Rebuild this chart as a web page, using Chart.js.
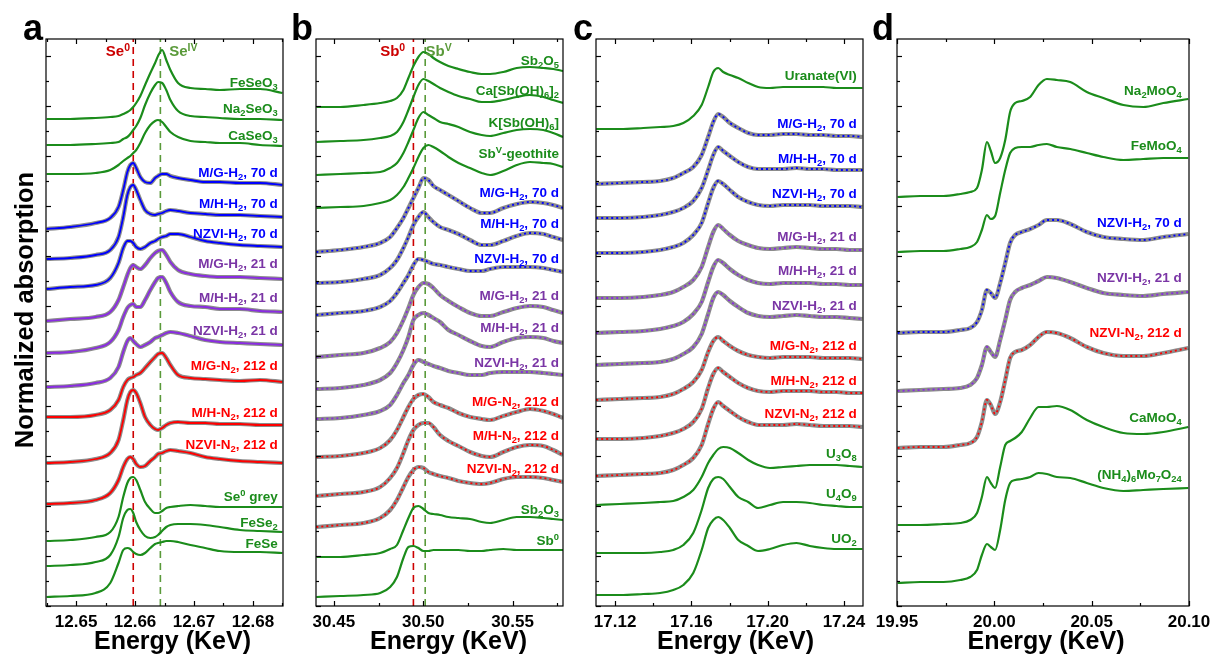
<!DOCTYPE html>
<html><head><meta charset="utf-8">
<script src="https://cdn.jsdelivr.net/npm/chart.js@4.4.1/dist/chart.umd.min.js"></script>
<style>
html,body{margin:0;padding:0;background:#fff;width:1212px;height:657px;overflow:hidden;position:relative;}
canvas{position:absolute;top:0;}
</style></head><body>
<canvas id="ca" width="297" height="657" style="left:0px"></canvas>
<canvas id="cb" width="307" height="657" style="left:286px"></canvas>
<canvas id="cc" width="327" height="657" style="left:566px"></canvas>
<canvas id="cd" width="360" height="657" style="left:867px"></canvas>
<script>
// ---------------- Panel a : Se K-edge ----------------
const energyA = [12.6450,12.6490,12.6533,12.6558,12.6572,12.6580,12.6587,12.6592,12.6597,12.6602,12.6609,12.6617,12.6626,12.6634,12.6639,12.6646,12.6653,12.6660,12.6673,12.6694,12.6719,12.6744,12.6778,12.6812,12.6850];
const a_FeSeO3  = [48.7,48.7,48.8,48.9,49.0,49.2,49.4,49.6,49.9,50.3,51.0,52.1,53.3,54.3,55.0,55.6,54.6,53.6,52.3,51.8,51.7,51.6,51.7,51.7,51.3];
const a_Na2SeO3 = [46.1,46.1,46.2,46.3,46.4,46.7,46.9,47.2,47.6,48.0,48.8,50.1,51.3,52.1,52.4,52.3,51.6,50.6,49.5,49.0,48.9,48.8,48.7,48.7,48.6];
const a_CaSeO3  = [43.2,43.2,43.3,43.6,44.1,44.5,44.8,45.0,45.3,45.6,46.3,47.3,48.1,48.5,48.6,48.4,47.9,47.4,46.9,46.5,46.4,46.3,46.3,46.1,46.0];
const a_MGH70   = [37.7,37.9,38.3,38.8,39.9,41.6,43.4,44.1,44.3,43.8,42.9,42.4,42.3,42.8,43.0,43.2,43.2,43.0,42.8,42.6,42.4,42.4,42.3,42.3,42.1];
const a_MHH70   = [34.7,34.8,35.1,35.6,36.9,38.9,41.1,41.9,42.1,41.6,40.6,39.6,39.2,39.1,39.2,39.3,39.5,39.6,39.5,39.3,39.2,39.1,39.1,39.0,38.9];
const a_NZH70   = [31.7,31.9,32.1,32.8,34.3,35.8,36.5,36.5,36.3,35.9,35.7,35.9,36.3,36.5,36.7,36.9,37.0,37.2,37.2,36.9,36.5,36.3,36.1,36.0,35.9];
const a_MGH21   = [28.5,28.7,28.9,29.4,30.6,31.9,33.1,33.8,34.1,33.9,33.7,34.1,34.8,35.3,35.5,35.6,35.1,34.4,33.6,33.2,33.0,32.9,32.9,32.8,32.7];
const a_MHH21   = [25.3,25.4,25.8,26.4,27.6,28.9,29.8,30.1,30.2,29.9,29.9,30.6,31.6,32.4,32.8,32.9,32.3,31.4,30.4,30.0,29.9,29.7,29.7,29.5,29.4];
const a_NZH21   = [21.9,22.0,22.3,22.8,23.9,25.4,26.5,26.8,26.5,26.2,25.9,26.1,26.4,26.8,26.9,27.1,27.3,27.4,27.3,27.0,26.6,26.4,26.3,26.2,26.1];
const a_MGN212  = [18.9,18.9,19.1,19.6,20.6,21.9,22.6,22.8,22.9,23.1,23.3,23.8,24.4,24.9,25.2,25.3,24.8,24.1,23.1,22.8,22.7,22.6,22.5,22.6,22.4];
const a_MHN212  = [14.3,14.4,14.7,15.3,16.6,18.6,20.6,21.4,21.6,21.3,20.3,18.9,18.1,17.7,17.6,17.8,18.1,18.3,18.4,18.3,18.3,18.2,18.2,18.1,18.1];
const a_NZN212  = [10.2,10.3,10.6,11.3,12.6,13.9,14.7,14.9,14.7,14.2,13.9,14.0,14.5,14.9,15.2,15.3,15.5,15.6,15.5,15.3,14.9,14.7,14.5,14.4,14.3];
const a_Se0grey = [6.5,6.6,6.9,7.4,8.9,10.9,12.3,12.8,12.9,12.6,11.6,10.4,9.7,9.3,9.3,9.5,9.8,9.9,10.0,10.1,10.0,9.9,9.9,9.9,9.9];
const a_FeSe2   = [4.0,4.1,4.4,5.1,6.9,8.8,9.6,9.7,9.3,8.4,7.6,7.0,6.8,6.9,7.1,7.5,7.9,8.1,8.2,8.2,8.1,7.9,7.6,7.5,7.4];
const a_FeSe    = [0.9,1.0,1.3,2.3,4.3,5.6,5.8,5.7,5.4,5.2,5.1,5.3,5.8,6.2,6.3,6.4,6.5,6.5,6.4,6.1,5.8,5.5,5.4,5.4,5.3];
const labelTextA = ['FeSeO_3','Na_2SeO_3','CaSeO_3','M/G-H_2, 70 d','M/H-H_2, 70 d','NZVI-H_2, 70 d','M/G-H_2, 21 d','M/H-H_2, 21 d','NZVI-H_2, 21 d','M/G-N_2, 212 d','M/H-N_2, 212 d','NZVI-N_2, 212 d','Se^0 grey','FeSe_2','FeSe'];
const labelYA = [52.4,49.8,47.1,43.4,40.3,37.3,34.3,30.9,27.6,24.1,19.4,16.2,11.0,8.4,6.3];
const kindsA = ['ref','ref','ref','h70','h70','h70','h21','h21','h21','n212','n212','n212','ref','ref','ref'];
const vlineA = [12.6597, 12.6643];
const topTextA = ['Se^0','Se^{IV}'];
const topXA = [12.6571, 12.6682];
const xTicksA = {min:12.6449, max:12.6851, step:0.01};

// ---------------- Panel b : Sb K-edge ----------------
const energyB = [30.4402,30.4536,30.4666,30.4759,30.4815,30.4853,30.4889,30.4917,30.4945,30.4973,30.5001,30.5029,30.5057,30.5094,30.5141,30.5197,30.5262,30.5327,30.5374,30.5448,30.5523,30.5597,30.5672,30.5727,30.5782];
const b_Sb2O5   = [49.9,49.9,50.1,50.3,50.5,50.8,51.6,52.8,54.0,54.9,55.4,55.2,54.8,54.4,54.0,53.7,53.4,53.2,53.2,53.4,53.8,53.9,53.8,53.7,53.5];
const b_CaSbOH  = [46.4,46.5,46.6,46.8,47.0,47.4,48.4,49.6,50.9,52.1,52.7,52.5,52.2,51.8,51.4,51.0,50.7,50.4,50.4,50.6,50.9,51.1,50.9,50.6,50.3];
const b_KSbOH   = [43.1,43.2,43.3,43.4,43.8,44.3,45.3,46.4,47.6,48.8,49.4,49.1,48.8,48.4,48.2,47.9,47.4,47.1,47.0,47.3,47.6,47.7,47.6,47.3,46.9];
const b_SbVgeo  = [39.8,39.9,40.0,40.3,40.6,41.1,41.9,42.8,43.8,44.9,45.8,46.1,45.9,45.5,44.9,44.3,43.8,43.3,43.1,43.5,44.1,44.4,44.3,44.2,43.9];
const b_MGH70   = [35.4,35.6,35.9,36.3,36.9,37.8,38.8,39.8,40.8,41.8,42.8,42.6,42.0,41.6,41.1,40.5,39.8,39.3,39.3,39.8,40.2,40.4,40.3,40.1,39.8];
const b_MHH70   = [32.3,32.4,32.7,33.1,33.8,34.6,35.8,36.9,38.1,38.9,39.4,38.9,38.4,37.9,37.6,37.2,36.6,36.1,36.1,36.5,37.0,37.3,37.2,36.9,36.6];
const b_NZH70   = [29.1,29.3,29.5,29.9,30.5,31.3,32.3,33.1,34.1,34.7,34.6,34.4,34.2,34.1,33.9,33.7,33.5,33.5,33.7,33.9,33.9,33.9,33.8,33.6,33.4];
const b_MGH21   = [24.9,25.1,25.3,25.8,26.4,27.3,28.6,29.8,31.1,31.9,32.3,32.2,31.8,31.1,30.5,29.9,29.3,29.0,29.0,29.4,29.8,30.0,29.9,29.6,29.3];
const b_MHH21   = [21.7,21.8,22.1,22.6,23.3,24.3,25.6,26.9,28.6,29.1,29.3,29.1,28.8,28.4,27.6,27.1,26.5,26.0,25.9,26.4,26.8,26.9,26.8,26.5,26.3];
const b_NZH21   = [18.7,18.8,19.1,19.5,20.1,21.1,22.3,23.1,24.1,24.6,24.4,24.2,24.0,23.8,23.5,23.3,23.1,23.1,23.3,23.4,23.4,23.4,23.3,23.2,23.1];
const b_MGN212  = [14.9,15.0,15.3,15.8,16.6,17.6,18.9,19.9,20.7,21.1,21.2,20.9,20.4,20.1,19.8,19.3,18.9,18.7,18.6,19.0,19.4,19.7,19.5,19.2,18.8];
const b_MHN212  = [11.0,11.2,11.4,11.9,12.8,13.8,15.3,16.6,17.6,18.1,18.3,18.3,17.9,17.1,16.5,16.0,15.4,15.0,14.9,15.4,15.9,16.1,16.0,15.6,15.1];
const b_NZN212  = [7.9,8.1,8.3,8.8,9.6,10.6,11.9,12.9,13.6,13.9,13.8,13.4,13.2,13.0,12.8,12.5,12.3,12.2,12.3,12.7,12.9,12.9,12.8,12.6,12.4];
const b_Sb2O3   = [4.9,4.9,5.1,5.3,5.7,6.1,7.6,8.8,9.8,10.0,9.7,9.3,9.2,9.1,8.9,8.8,8.7,8.4,8.3,8.6,8.9,8.9,8.8,8.7,8.6];
const b_Sb0     = [0.9,1.0,1.1,1.3,1.9,2.9,4.8,5.9,6.0,5.8,5.5,5.5,5.6,5.6,5.6,5.6,5.5,5.5,5.6,5.7,5.6,5.6,5.6,5.6,5.6];
const labelTextB = ['Sb_2O_5','Ca[Sb(OH)_6]_2','K[Sb(OH)_6]','Sb^V-geothite','M/G-H_2, 70 d','M/H-H_2, 70 d','NZVI-H_2, 70 d','M/G-H_2, 21 d','M/H-H_2, 21 d','NZVI-H_2, 21 d','M/G-N_2, 212 d','M/H-N_2, 212 d','NZVI-N_2, 212 d','Sb_2O_3','Sb^0'];
const labelYB = [54.6,51.6,48.4,45.3,41.4,38.3,34.8,31.1,27.9,24.4,20.5,17.1,13.8,9.7,6.6];
const kindsB = ['ref','ref','ref','ref','h70','h70','h70','h21','h21','h21','n212','n212','n212','ref','ref'];
const vlineB = [30.4945, 30.5011];
const topTextB = ['Sb^0','Sb^V'];
const topXB = [30.4829, 30.5086];
const xTicksB = {min:30.44, max:30.5782, step:0.05};

// ---------------- Panel c : U L3-edge ----------------
const energyC = [17.1101,17.1226,17.1348,17.1436,17.1505,17.1558,17.1610,17.1654,17.1688,17.1715,17.1741,17.1767,17.1802,17.1846,17.1898,17.1950,17.2012,17.2081,17.2151,17.2221,17.2291,17.2361,17.2430,17.2497];
const c_Uranate = [47.7,47.7,47.8,47.9,48.0,48.3,49.0,50.1,51.9,53.4,53.8,53.4,53.1,52.8,52.3,51.9,51.8,51.9,51.9,51.9,51.9,51.8,51.8,51.8];
const c_MGH70   = [42.2,42.3,42.4,42.5,42.8,43.3,43.9,45.1,46.9,48.4,49.2,48.9,48.3,47.8,47.3,47.1,47.1,47.2,47.2,47.1,47.1,47.0,47.0,46.9];
const c_MHH70   = [38.8,38.8,38.9,39.1,39.4,39.8,40.5,41.8,43.6,45.1,45.9,45.5,45.0,44.4,43.9,43.7,43.7,43.7,43.8,43.7,43.7,43.6,43.6,43.6];
const c_NZH70   = [35.3,35.3,35.4,35.6,35.9,36.3,37.1,38.3,40.3,41.8,42.5,42.2,41.6,40.9,40.4,40.1,40.0,40.1,40.1,40.1,40.0,40.0,40.0,39.9];
const c_MGH21   = [30.8,30.8,30.9,31.1,31.4,31.9,32.6,33.9,35.9,37.4,38.1,37.7,37.1,36.5,36.1,35.8,35.7,35.8,35.9,35.8,35.7,35.7,35.6,35.6];
const c_MHH21   = [27.3,27.4,27.5,27.7,28.0,28.4,29.2,30.4,32.4,33.9,34.6,34.3,33.7,33.1,32.6,32.3,32.2,32.3,32.3,32.3,32.2,32.2,32.1,32.1];
const c_NZH21   = [24.1,24.2,24.3,24.4,24.7,25.2,25.9,27.2,29.2,30.8,31.4,31.1,30.5,29.9,29.3,29.0,28.9,29.0,29.1,29.0,28.9,28.9,28.8,28.7];
const c_MGN212  = [20.6,20.7,20.8,20.9,21.2,21.7,22.4,23.6,25.4,26.5,26.9,26.5,26.0,25.5,25.1,24.9,24.8,24.9,24.9,24.9,24.8,24.8,24.8,24.7];
const c_MHN212  = [16.7,16.7,16.8,17.0,17.3,17.7,18.4,19.7,21.8,23.2,23.8,23.4,22.9,22.3,21.8,21.5,21.4,21.5,21.5,21.5,21.4,21.4,21.3,21.3];
const c_NZN212  = [13.0,13.1,13.2,13.3,13.6,14.1,14.8,16.1,18.2,19.7,20.4,20.0,19.5,18.9,18.4,18.1,18.1,18.1,18.2,18.1,18.0,18.0,18.0,17.9];
const c_U3O8    = [10.1,10.2,10.3,10.4,10.5,10.9,11.6,12.9,14.3,15.1,15.7,15.9,15.8,15.3,14.6,14.1,13.8,13.9,14.0,14.1,14.1,14.1,14.0,13.9];
const c_U4O9    = [5.3,5.3,5.3,5.4,5.6,6.1,7.3,9.6,11.8,12.7,12.9,12.7,11.9,10.9,10.4,9.8,10.1,10.4,10.4,10.3,10.1,10.0,9.9,9.9];
const c_UO2     = [1.1,1.1,1.2,1.3,1.6,2.1,3.3,5.6,7.8,8.6,8.9,8.6,7.8,6.6,6.0,5.5,5.7,6.1,6.3,6.0,5.8,5.7,5.7,5.7];
const labelTextC = ['Uranate(VI)','M/G-H_2, 70 d','M/H-H_2, 70 d','NZVI-H_2, 70 d','M/G-H_2, 21 d','M/H-H_2, 21 d','NZVI-H_2, 21 d','M/G-N_2, 212 d','M/H-N_2, 212 d','NZVI-N_2, 212 d','U_3O_8','U_4O_9','UO_2'];
const labelYC = [53.1,48.3,44.8,41.3,37.0,33.6,30.1,26.1,22.6,19.3,15.3,11.3,6.8];
const kindsC = ['ref','h70','h70','h70','h21','h21','h21','n212','n212','n212','ref','ref','ref'];
const xTicksC = {min:17.11, max:17.25, step:0.04};

// ---------------- Panel d : Mo K-edge ----------------
const energyD = [19.9503,19.9620,19.9739,19.9825,19.9876,19.9911,19.9936,19.9962,19.9982,20.0004,20.0030,20.0056,20.0081,20.0107,20.0141,20.0184,20.0227,20.0270,20.0321,20.0390,20.0475,20.0560,20.0663,20.0765,20.0868,20.0996];
const d_Na2MoO4 = [40.9,41.0,41.0,41.2,41.4,41.8,43.6,46.4,45.5,44.3,44.8,46.6,49.4,50.3,50.5,50.9,52.1,52.7,52.6,52.4,51.4,50.8,50.1,49.9,50.3,50.7];
const d_FeMoO4  = [35.4,35.5,35.5,35.7,35.9,36.4,37.6,39.1,38.7,39.0,41.3,43.6,45.3,45.8,45.9,45.9,46.1,46.2,45.9,45.7,45.3,44.9,44.6,44.7,44.8,44.8];
const d_NZH70   = [27.3,27.4,27.4,27.6,27.8,28.4,29.6,31.6,31.3,30.8,32.3,34.3,36.3,37.1,37.4,37.7,38.1,38.6,38.6,38.2,37.4,36.9,36.7,36.6,36.9,37.2];
const d_NZH21   = [21.5,21.6,21.7,21.8,22.1,22.8,24.1,25.9,25.4,24.9,26.6,28.6,30.6,31.4,31.8,32.1,32.5,32.9,32.8,32.4,31.8,31.3,31.1,31.0,31.2,31.4];
const d_NZN212  = [15.8,15.9,15.9,16.1,16.3,16.9,18.4,20.6,20.1,19.2,20.4,22.6,24.8,25.4,25.6,26.1,26.9,27.4,27.3,26.8,25.9,25.3,25.0,25.0,25.3,25.8];
const d_CaMoO4  = [8.1,8.1,8.2,8.3,8.6,9.3,10.9,12.9,12.3,11.8,13.9,16.1,16.5,16.8,17.4,18.8,19.9,19.9,20.0,19.6,18.6,17.9,17.3,17.2,17.4,17.9];
const d_NH4Mo   = [2.3,2.4,2.4,2.6,2.9,3.6,5.1,6.2,5.9,5.6,7.6,10.6,12.3,12.6,12.7,12.9,13.3,13.2,12.9,12.8,12.3,11.8,11.5,11.6,11.7,11.8];
const labelTextD = ['Na_2MoO_4','FeMoO_4','NZVI-H_2, 70 d','NZVI-H_2, 21 d','NZVI-N_2, 212 d','CaMoO_4','(NH_4)_6Mo_7O_{24}'];
const labelYD = [51.6,46.1,38.4,32.9,27.4,18.9,13.2];
const kindsD = ['ref','ref','h70','h21','n212','ref','ref'];
const xTicksD = {min:19.95, max:20.10, step:0.05};

// ---------------- styling ----------------
const FONT = "'Liberation Sans', Arial, Helvetica, sans-serif";
const GREEN = '#1b8c1b';
const LINE = {ref:GREEN, h70:'#0000ff', h21:'#8a2be2', n212:'#ff0000'};
const LABEL = {ref:GREEN, h70:'#0000ff', h21:'#7a35a5', n212:'#ff0000'};
const GRAY = '#8c8c8c';
const Y_MAX = 56.7;

function parseRich(s){
  const out=[]; let i=0;
  while(i<s.length){
    const c=s[i];
    if((c==='_'||c==='^') && i+1<s.length){
      const mode = c==='_'?'sub':'sup'; let t;
      if(s[i+1]==='{'){ const j=s.indexOf('}',i+2); t=s.slice(i+2,j); i=j+1; }
      else { t=s[i+1]; i+=2; }
      out.push({t,mode});
    } else {
      let j=i; while(j<s.length && s[j]!=='_' && s[j]!=='^') j++;
      out.push({t:s.slice(i,j),mode:'n'}); i=j;
    }
  }
  return out;
}
function drawRich(ctx, s, x, yc, size, color, align){
  const parts=parseRich(s);
  const fontFor = m => 'bold '+(m==='n'?size:(size*0.7).toFixed(1))+'px '+FONT;
  let w=0; parts.forEach(p=>{ctx.font=fontFor(p.mode); p.w=ctx.measureText(p.t).width; w+=p.w;});
  let cx = align==='right'? x-w : (align==='center'? x-w/2 : x);
  ctx.fillStyle=color; ctx.textBaseline='alphabetic'; ctx.textAlign='left';
  const base = yc + size*0.36;
  parts.forEach(p=>{ ctx.font=fontFor(p.mode);
    const dy = p.mode==='sub'? size*0.2 : (p.mode==='sup'? -size*0.36 : 0);
    ctx.fillText(p.t,cx,base+dy); cx+=p.w; });
}

const deco = {
  id:'deco',
  afterDatasetsDraw(chart, args, o){
    const {ctx, chartArea:{left,top,right,bottom}, scales:{x,y}} = chart;
    ctx.save();
    o.labels.forEach(l => drawRich(ctx, l.text, x.getPixelForValue(l.x), y.getPixelForValue(l.y), l.size, l.color, l.align));
    ctx.strokeStyle='#000'; ctx.lineWidth=1.2;
    ctx.strokeRect(left, top, right-left, bottom-top);
    const half = o.step/2;
    for(let k=Math.ceil(x.min/half-1e-6); k*half<=x.max+1e-9; k++){
      const v=k*half, px=Math.round(x.getPixelForValue(v))+0.5;
      const major = Math.abs(Math.round(v/o.step)*o.step - v) < half/10;
      const L = major?5:3;
      ctx.beginPath(); ctx.moveTo(px,bottom); ctx.lineTo(px,bottom-L); ctx.moveTo(px,top); ctx.lineTo(px,top+L); ctx.stroke();
    }
    for(let v=0; v<=Y_MAX; v+=2.5){
      const py=Math.round(y.getPixelForValue(v))+0.5;
      const L = (Math.round(v/2.5)%2===0)?5:3;
      ctx.beginPath(); ctx.moveTo(left,py); ctx.lineTo(left+L,py); ctx.stroke();
    }
    ctx.fillStyle='#000'; ctx.font='bold 36px '+FONT; ctx.textAlign='right'; ctx.textBaseline='alphabetic';
    ctx.fillText(o.letter, left-3, top+1);
    ctx.font='bold 25px '+FONT; ctx.textAlign='center';
    ctx.fillText('Energy (KeV)', (left+right)/2 + o.titleShift, 649);
    if(o.yTitle){
      ctx.save(); ctx.translate(33, 310); ctx.rotate(-Math.PI/2);
      ctx.font='bold 25.5px '+FONT; ctx.textAlign='center'; ctx.textBaseline='alphabetic';
      ctx.fillText(o.yTitle, 0, 0); ctx.restore();
    }
    ctx.restore();
  }
};

function makePanel(id, energy, series, kinds, labelText, labelY, labelX, ticks, vlines, topText, topX, letter, pad, titleShift, fitDash, yTitle){
  const ds=[];
  series.forEach((vals,i)=>{
    const pts = vals.map((v,j)=>({x:energy[j], y:v}));
    const k = kinds[i];
    const common = {data:pts, pointRadius:0, cubicInterpolationMode:'monotone', fill:false};
    if(k==='ref'){
      ds.push(Object.assign({}, common, {borderColor:GREEN, borderWidth:2.2, order:1}));
    } else {
      ds.push(Object.assign({}, common, {borderColor:GRAY, borderWidth:4.2, order:3}));
      ds.push(Object.assign({}, common, {borderColor:LINE[k], borderWidth:1.8, borderDash:fitDash, order:2}));
    }
  });
  const vcol = ['#cc0000','#5a9a3a'];
  (vlines||[]).forEach((e,i)=>{
    ds.push({data:[{x:e,y:0},{x:e,y:Y_MAX}], borderColor:vcol[i], borderWidth:1.6, borderDash:[7,5], pointRadius:0, order:4});
  });
  const labels = labelText.map((t,i)=>({text:t, x:labelX, y:labelY[i], size:13.5, color:LABEL[kinds[i]], align:'right'}));
  (topText||[]).forEach((t,i)=> labels.push({text:t, x:topX[i], y:55.5, size:15, color:vcol[i], align:'center'}));
  new Chart(document.getElementById(id), {
    type:'line',
    data:{datasets:ds},
    options:{
      responsive:false, animation:false, events:[],
      layout:{padding:{left:pad[0], right:pad[1], top:39, bottom:0}},
      plugins:{legend:{display:false}, tooltip:{enabled:false},
        deco:{labels, step:ticks.step, letter, titleShift, yTitle}},
      scales:{
        x:{type:'linear', min:ticks.min, max:ticks.max,
           grid:{display:false, drawTicks:false}, border:{display:false},
           ticks:{stepSize:ticks.step, includeBounds:false, autoSkip:false, maxRotation:0, padding:6, color:'#000',
                  font:{family:FONT, size:17, weight:'bold'}, callback:v=>Number(v).toFixed(2)},
           afterFit:s=>{s.height=51;}},
        y:{display:false, min:0, max:Y_MAX}
      }
    },
    plugins:[deco]
  });
}

makePanel('ca', energyA,
  [a_FeSeO3,a_Na2SeO3,a_CaSeO3,a_MGH70,a_MHH70,a_NZH70,a_MGH21,a_MHH21,a_NZH21,a_MGN212,a_MHN212,a_NZN212,a_Se0grey,a_FeSe2,a_FeSe],
  kindsA, labelTextA, labelYA, 12.6842, xTicksA, vlineA, topTextA, topXA, 'a', [46,14], 8, [], 'Normalized absorption');
makePanel('cb', energyB,
  [b_Sb2O5,b_CaSbOH,b_KSbOH,b_SbVgeo,b_MGH70,b_MHH70,b_NZH70,b_MGH21,b_MHH21,b_NZH21,b_MGN212,b_MHN212,b_NZN212,b_Sb2O3,b_Sb0],
  kindsB, labelTextB, labelYB, 30.5759, xTicksB, vlineB, topTextB, topXB, 'b', [30,30], 9, [2,3], null);
makePanel('cc', energyC,
  [c_Uranate,c_MGH70,c_MHH70,c_NZH70,c_MGH21,c_MHH21,c_NZH21,c_MGN212,c_MHN212,c_NZN212,c_U3O8,c_U4O9,c_UO2],
  kindsC, labelTextC, labelYC, 17.2467, xTicksC, null, null, null, 'c', [30,30], 6, [2,3], null);
makePanel('cd', energyD,
  [d_Na2MoO4,d_FeMoO4,d_NZH70,d_NZH21,d_NZN212,d_CaMoO4,d_NH4Mo],
  kindsD, labelTextD, labelYD, 20.0963, xTicksD, null, null, null, 'd', [30,38], 3, [2,3], null);
</script>
</body></html>
